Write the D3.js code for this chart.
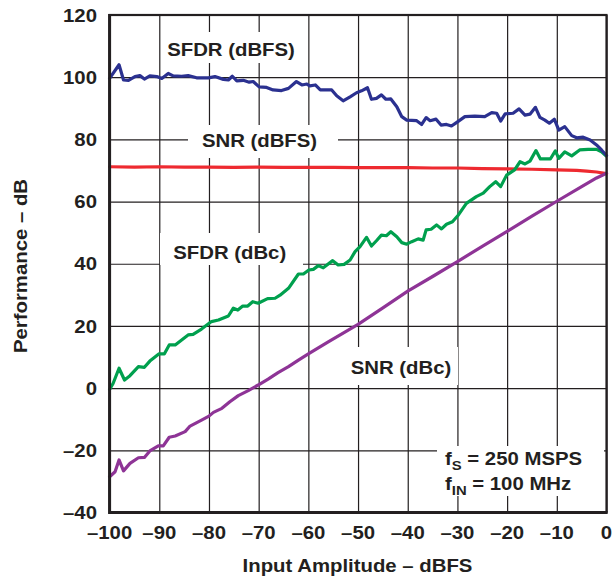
<!DOCTYPE html>
<html>
<head>
<meta charset="utf-8">
<script src="https://cdn.jsdelivr.net/npm/d3@7/dist/d3.min.js"></script>
<style>
  html, body { margin: 0; padding: 0; background: #fff; }
  svg { display: block; }
  text { font-family: "Liberation Sans", Arial, Helvetica, sans-serif; font-weight: bold; fill: #231f20; }
</style>
</head>
<body>
<svg id="chart" width="613" height="581"></svg>
<script>
// Axis ticks
const xTicks = [-100, -90, -80, -70, -60, -50, -40, -30, -20, -10, 0];
const yTicks = [-40, -20, 0, 20, 40, 60, 80, 100, 120];
const xTickLabels = ["–100", "–90", "–80", "–70", "–60", "–50", "–40", "–30", "–20", "–10", "0"];
const yTickLabels = ["–40", "–20", "0", "20", "40", "60", "80", "100", "120"];

// Series: [input amplitude (dBFS), performance (dB)]
const sfdrDbfs = [[-100,99.6],[-98.1,104],[-97.2,99.1],[-96.2,99],[-94.9,100.2],[-93.9,100.5],[-93,99.4],[-91.9,100.4],[-90.5,100.2],[-89.5,99.6],[-88.2,101.2],[-87.2,100.4],[-85.5,100.3],[-84.2,100.5],[-82.5,99.8],[-80.1,99.8],[-78.8,100.2],[-77.1,99.3],[-76.1,99.1],[-75.3,100.3],[-74.4,98.8],[-73.1,99],[-71.9,98.4],[-71.1,98.6],[-69.9,96.9],[-68.4,96.7],[-67.1,95.9],[-65.4,95.7],[-64,96.4],[-62.4,98.6],[-61.3,97.5],[-60.3,97.8],[-59.7,97.2],[-58.6,97.5],[-57.6,95.9],[-55.3,95.9],[-54.3,94],[-53,92.4],[-51.6,93.7],[-50.3,95],[-49.3,95.6],[-48.1,96.6],[-47.3,92.9],[-46.3,93.2],[-45.3,94.3],[-44.4,92.9],[-43.4,93],[-42.2,90.5],[-41.2,87.3],[-40.2,86.2],[-38.2,86],[-37.2,84.8],[-36.3,87],[-35.5,86],[-34.3,86.5],[-33.3,84.6],[-32.2,84.8],[-31.2,84.3],[-30.2,85.4],[-28.5,87.3],[-26.5,87.5],[-24.5,87.3],[-23.1,88.6],[-22.1,88.4],[-21.3,85.9],[-20.4,88.2],[-18.8,88.4],[-17.6,89.8],[-16.4,87.8],[-15.4,88.1],[-14.3,90.3],[-13.4,87.1],[-12.4,86.2],[-11.5,85.2],[-10.5,86.5],[-9.6,83],[-8.4,84.1],[-7,81.2],[-6,80.5],[-4.7,80.7],[-3.3,79.8],[-2,78.2],[-1,76.6],[0,74.8]];
const snrDbfs = [[-100,71.2],[-95,71.1],[-90,71.2],[-85,71.1],[-80,71.1],[-75,71.0],[-70,71.1],[-65,71.0],[-60,71.0],[-55,71.0],[-50,70.9],[-45,70.9],[-40,70.9],[-35,70.8],[-30,70.8],[-25,70.6],[-20,70.5],[-15,70.4],[-10,70.2],[-6,70.0],[-4,69.8],[-2,69.5],[0,69.0]];
const sfdrDbc = [[-100,-0.4],[-99.3,1.5],[-98.1,6.4],[-97,2.6],[-95.9,4],[-94.2,6.9],[-93,6.7],[-91.9,8.7],[-90.1,11],[-89,11],[-88,13.9],[-86.8,13.9],[-84.2,17.1],[-83.2,17.3],[-81.5,19],[-79.5,21.4],[-78.1,21.9],[-76.1,23.2],[-75.1,25.7],[-74.2,25.1],[-73.2,26.4],[-72.2,26.4],[-71.2,27.8],[-70.1,27.3],[-68.2,28.8],[-66.7,28.9],[-65.7,29.9],[-64,32.1],[-62,36.7],[-61,36.7],[-59.9,38],[-59,38.2],[-58,39.4],[-57,38.7],[-55.1,41],[-54,39.6],[-52.8,39.8],[-51.6,41.2],[-50.6,43.9],[-49.6,45.5],[-48.3,48.5],[-47.3,45.7],[-46.3,47.4],[-45.3,49.2],[-44.3,49],[-43.4,50.3],[-42.2,48.7],[-41.2,46.8],[-40.2,46.3],[-39.2,47.1],[-37.9,48],[-36.9,47.6],[-36.3,50.9],[-35.3,51.1],[-34.2,52.5],[-33.2,51.2],[-32.2,52.7],[-31,53.5],[-29.8,55.7],[-28.2,59.4],[-26.2,61.6],[-24.8,62.7],[-23.5,64.8],[-22.3,66.4],[-21.3,64.8],[-20.1,68.5],[-18.5,70.2],[-17.4,72.8],[-16.4,72.1],[-15.4,73],[-14.2,76.4],[-13.3,73.7],[-11.3,73.7],[-10.3,76.3],[-9.6,73.9],[-8.4,76],[-7,74.7],[-5.4,76.6],[-3.7,76.8],[-2,76.8],[-1,76],[-0.1,74.7]];
const snrDbc = [[-100,-28.5],[-98.9,-26.9],[-98.1,-23.1],[-97.2,-26.6],[-95.9,-24.2],[-94.2,-22.4],[-93,-22.3],[-91.9,-20.2],[-90.2,-18.6],[-89.2,-18.6],[-88,-15.8],[-86.8,-15.4],[-84.8,-14],[-83.8,-12.2],[-81.5,-10.3],[-80,-9],[-79.1,-7.8],[-77.4,-6.5],[-75.8,-4.4],[-74.1,-2.4],[-72.1,-0.8],[-70.1,1],[-68.1,2.9],[-66.1,5],[-64,6.9],[-62,9],[-60,11],[-56,14.9],[-50,20.5],[-45,25.8],[-40,31.2],[-35,35.9],[-30,40.7],[-25,45.6],[-20,50.4],[-15,55.3],[-10,60.1],[-5,64.8],[-2,67.6],[0,69.1]];

const seriesList = [
  { data: snrDbfs,  color: "#ee2a30" },
  { data: snrDbc,   color: "#8e3496" },
  { data: sfdrDbc,  color: "#00a04e" },
  { data: sfdrDbfs, color: "#2b3190" }
];

const INK = "#231f20";
const FS = 18.5;     // font size
const SX = 1.1;      // horizontal stretch of the lettering

const svg = d3.select("#chart");
svg.append("rect").attr("width", 613).attr("height", 581).attr("fill", "#fff");

const plotL = 109.6, plotR = 606.5, plotT = 15, plotB = 512.5;
const x = d3.scaleLinear().domain([-100, 0]).range([plotL, plotR]);
const y = d3.scaleLinear().domain([-40, 120]).range([plotB, plotT]);

// grid
const grid = svg.append("g");
grid.append("g")
  .attr("transform", `translate(0,${plotB})`)
  .call(d3.axisBottom(x).tickValues(xTicks).tickSize(-(plotB - plotT)).tickFormat(""))
  .call(g => g.select(".domain").remove())
  .call(g => g.selectAll("line").attr("stroke", INK).attr("stroke-width", 1.2));
grid.append("g")
  .attr("transform", `translate(${plotL},0)`)
  .call(d3.axisLeft(y).tickValues(yTicks).tickSize(-(plotR - plotL)).tickFormat(""))
  .call(g => g.select(".domain").remove())
  .call(g => g.selectAll("line").attr("stroke", INK).attr("stroke-width", 1.2));

// white panels behind in-plot annotations (they interrupt the grid)
const panels = [
  [163, 32, 137, 31],   // SFDR (dBFS)
  [188, 125, 150, 33],  // SNR (dBFS)
  [160, 233, 143, 32],  // SFDR (dBc)
  [345, 347, 113, 38],  // SNR (dBc)
  [437, 446, 167, 50]   // conditions
];
svg.append("g").selectAll("rect").data(panels).join("rect")
  .attr("x", d => d[0]).attr("y", d => d[1]).attr("width", d => d[2]).attr("height", d => d[3])
  .attr("fill", "#fff");

// curves
const line = d3.line().x(d => x(d[0])).y(d => y(d[1])).curve(d3.curveLinear);
const plot = svg.append("g");
plot.selectAll("path").data(seriesList).join("path")
  .attr("d", d => line(d.data))
  .attr("fill", "none")
  .attr("stroke", d => d.color)
  .attr("stroke-width", 3.2)
  .attr("stroke-linejoin", "round")
  .attr("stroke-linecap", "round");

// frame
svg.append("rect")
  .attr("x", plotL).attr("y", plotT).attr("width", plotR - plotL).attr("height", plotB - plotT)
  .attr("fill", "none").attr("stroke", INK).attr("stroke-width", 2.2);
svg.append("path")
  .attr("d", `M${plotL},${plotT - 1}V${plotB}H${plotR + 1}`)
  .attr("fill", "none").attr("stroke", INK).attr("stroke-width", 3);

function label(parent, str, tx, ty, anchor, size) {
  return parent.append("text")
    .attr("transform", `translate(${tx},${ty}) scale(${SX},1)`)
    .attr("text-anchor", anchor)
    .attr("font-size", size || FS)
    .text(str);
}

// tick labels
const tl = svg.append("g");
xTicks.forEach((v, i) => label(tl, xTickLabels[i], x(v), 539, "middle"));
yTicks.forEach((v, i) => label(tl, yTickLabels[i], 97, y(v) + 6.6, "end"));

// axis titles
label(svg, "Input Amplitude – dBFS", 357.5, 571.5, "middle");
svg.append("text")
  .attr("transform", `translate(26.5,266) rotate(-90) scale(${SX},1)`)
  .attr("text-anchor", "middle")
  .attr("font-size", FS)
  .text("Performance – dB");

// series annotations
label(svg, "SFDR (dBFS)", 231, 56, "middle");
label(svg, "SNR (dBFS)", 259.5, 147.3, "middle");
label(svg, "SFDR (dBc)", 229.7, 259.3, "middle");
label(svg, "SNR (dBc)", 401, 374, "middle");

// test conditions
const c1 = svg.append("text")
  .attr("transform", `translate(445,465) scale(${SX},1)`)
  .attr("font-size", FS);
c1.append("tspan").text("f");
c1.append("tspan").attr("font-size", 13.5).attr("dy", 4.5).text("S");
c1.append("tspan").attr("dy", -4.5).text(" = 250 MSPS");
const c2 = svg.append("text")
  .attr("transform", `translate(445,490) scale(${SX},1)`)
  .attr("font-size", FS);
c2.append("tspan").text("f");
c2.append("tspan").attr("font-size", 13.5).attr("dy", 4.5).text("IN");
c2.append("tspan").attr("dy", -4.5).text(" = 100 MHz");
</script>
</body>
</html>
